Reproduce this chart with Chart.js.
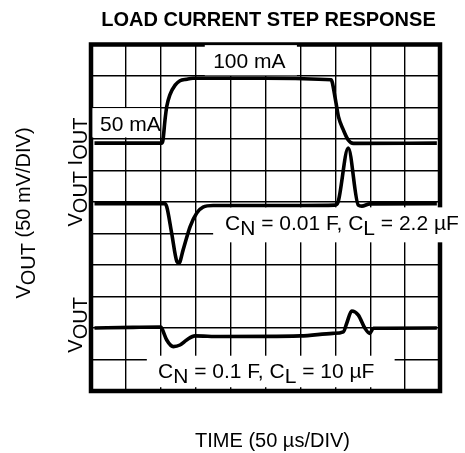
<!DOCTYPE html>
<html>
<head>
<meta charset="utf-8">
<script src="https://cdn.jsdelivr.net/npm/chart.js@4.4.0/dist/chart.umd.min.js"></script>
<style>
  html, body { margin: 0; padding: 0; background: #fff; }
  canvas { display: block; }
</style>
</head>
<body>
<canvas id="scope" width="465" height="453"></canvas>
<script>
// time in µs (50 µs/DIV), level in screen divisions counted from the bottom
const ioutTime  = [5, 101, 103, 106, 108.5, 113, 120.5, 127.5, 137, 146, 250, 344, 349.5, 354.5, 361.5, 368.5, 376, 495.5];
const ioutLevel = [7.87, 7.87, 7.95, 8.6, 9.03, 9.4, 9.71, 9.85, 9.9, 9.93, 9.93, 9.88, 9.34, 8.71, 8.29, 7.97, 7.86, 7.87];

// CN = 0.01 F, CL = 2.2 µF
const vout1Time  = [5, 105, 108.5, 115.5, 123, 126, 132, 142, 151.5, 160.5, 175, 300, 349.5, 354, 368.5, 383, 388, 399.5, 495.5];
const vout1Level = [5.95, 5.95, 5.85, 5.02, 4.11, 4.06, 4.48, 5.22, 5.65, 5.84, 5.89, 5.89, 5.9, 6.0, 7.71, 5.9, 5.87, 5.94, 5.95];

// CN = 0.1 F, CL = 10 µF
const vout2Time  = [5, 60, 100, 101.5, 108.5, 118, 127.5, 137, 149, 185, 300, 346.5, 361.5, 366.5, 373.5, 383, 392.5, 399.5, 404.5, 495.5];
const vout2Level = [2.0, 2.02, 2.03, 1.99, 1.62, 1.41, 1.46, 1.62, 1.75, 1.73, 1.75, 1.83, 1.88, 2.16, 2.54, 2.41, 1.99, 1.83, 1.99, 2.0];

const timeDivs = 10;    // 50 µs each
const levelDivs = 11;

const FONT = "'Liberation Sans', Arial, Helvetica, sans-serif";

// notes on the screen: text, anchor (µs, div) and the white patch behind it
const notes = [
  { text: '100 mA', x: 175, y: 10.25, box: [163, 295, 10.02, 10.98] },
  { text: '50 mA', x: 13, y: 8.25, box: [2, 99, 8.05, 8.98] },
  { text: 'C_{N} = 0.01 F, C_{L} = 2.2 µF', x: 192, y: 5.11, box: [175, 540, 4.72, 5.83] },
  { text: 'C_{N} = 0.1 F, C_{L} = 10 µF', x: 96, y: 0.41, box: [80, 435, 0.12, 1.12] }
];

function pieces(str) {
  const out = [];
  const re = /_\{([^}]*)\}/g;
  let last = 0, m;
  while ((m = re.exec(str))) {
    if (m.index > last) out.push({ t: str.slice(last, m.index), sub: false });
    out.push({ t: m[1], sub: true });
    last = re.lastIndex;
  }
  if (last < str.length) out.push({ t: str.slice(last), sub: false });
  return out;
}

// draws text with lowered subscripts; align 'left' or 'center'
function richText(ctx, str, x, y, align) {
  const parts = pieces(str);
  let w = 0;
  parts.forEach(p => { w += ctx.measureText(p.t).width; });
  let cx = align === 'center' ? x - w / 2 : x;
  ctx.textAlign = 'left';
  ctx.textBaseline = 'alphabetic';
  parts.forEach(p => {
    ctx.fillText(p.t, cx, p.sub ? y + 5 : y);
    cx += ctx.measureText(p.t).width;
  });
}

const scopeDecor = {
  id: 'scopeDecor',
  beforeDatasetsDraw(chart) {
    const { ctx, chartArea: a, scales: { x, y } } = chart;
    ctx.save();
    ctx.strokeStyle = '#000';
    ctx.lineWidth = 4.5;
    ctx.strokeRect(a.left, a.top, a.right - a.left, a.bottom - a.top);

    ctx.font = '21px ' + FONT;
    notes.forEach(n => {
      const [x0, x1, y0, y1] = n.box;
      const px0 = x.getPixelForValue(x0), px1 = x.getPixelForValue(x1);
      const py0 = y.getPixelForValue(y1), py1 = y.getPixelForValue(y0);
      ctx.fillStyle = '#fff';
      ctx.fillRect(px0, py0, px1 - px0, py1 - py0);
      ctx.fillStyle = '#000';
      richText(ctx, n.text, x.getPixelForValue(n.x), y.getPixelForValue(n.y), 'left');
    });
    ctx.restore();
  },
  afterDraw(chart) {
    const { ctx, chartArea: a, scales: { y } } = chart;
    ctx.save();
    ctx.fillStyle = '#000';

    ctx.font = 'bold 20px ' + FONT;
    ctx.textAlign = 'center';
    ctx.fillText('LOAD CURRENT STEP RESPONSE', (a.left + a.right) / 2 + 3, 26);

    ctx.font = '20px ' + FONT;
    richText(ctx, 'TIME (50 µs/DIV)', (a.left + a.right) / 2 + 7, 447, 'center');

    const side = [
      { text: 'V_{OUT} (50 mV/DIV)', px: 30, v: 5.65 },
      { text: 'V_{OUT} I_{OUT}', px: a.left - 9, v: 6.95 },
      { text: 'V_{OUT}', px: a.left - 9, v: 2.1 }
    ];
    side.forEach(s => {
      ctx.save();
      ctx.translate(s.px, y.getPixelForValue(s.v));
      ctx.rotate(-Math.PI / 2);
      richText(ctx, s.text, 0, 0, 'center');
      ctx.restore();
    });
    ctx.restore();
  }
};

function trace(time, level) {
  return {
    data: time.map((t, i) => ({ x: t, y: level[i] })),
    borderColor: '#000',
    borderWidth: 3.6,
    pointRadius: 0,
    fill: false,
    cubicInterpolationMode: 'monotone'
  };
}

const gridStyle = { color: '#000', lineWidth: 1.4, drawTicks: false };

new Chart(document.getElementById('scope'), {
  type: 'line',
  data: {
    datasets: [
      trace(ioutTime, ioutLevel),
      trace(vout1Time, vout1Level),
      trace(vout2Time, vout2Level)
    ]
  },
  options: {
    responsive: false,
    animation: false,
    layout: { padding: { left: 91, right: 25, top: 44.5, bottom: 62 } },
    plugins: { legend: { display: false }, tooltip: { enabled: false } },
    scales: {
      x: {
        type: 'linear', min: 0, max: timeDivs * 50,
        ticks: { display: false, stepSize: 50 },
        grid: gridStyle,
        border: { display: false }
      },
      y: {
        type: 'linear', min: 0, max: levelDivs,
        ticks: { display: false, stepSize: 1 },
        grid: gridStyle,
        border: { display: false }
      }
    }
  },
  plugins: [scopeDecor]
});
</script>
</body>
</html>
